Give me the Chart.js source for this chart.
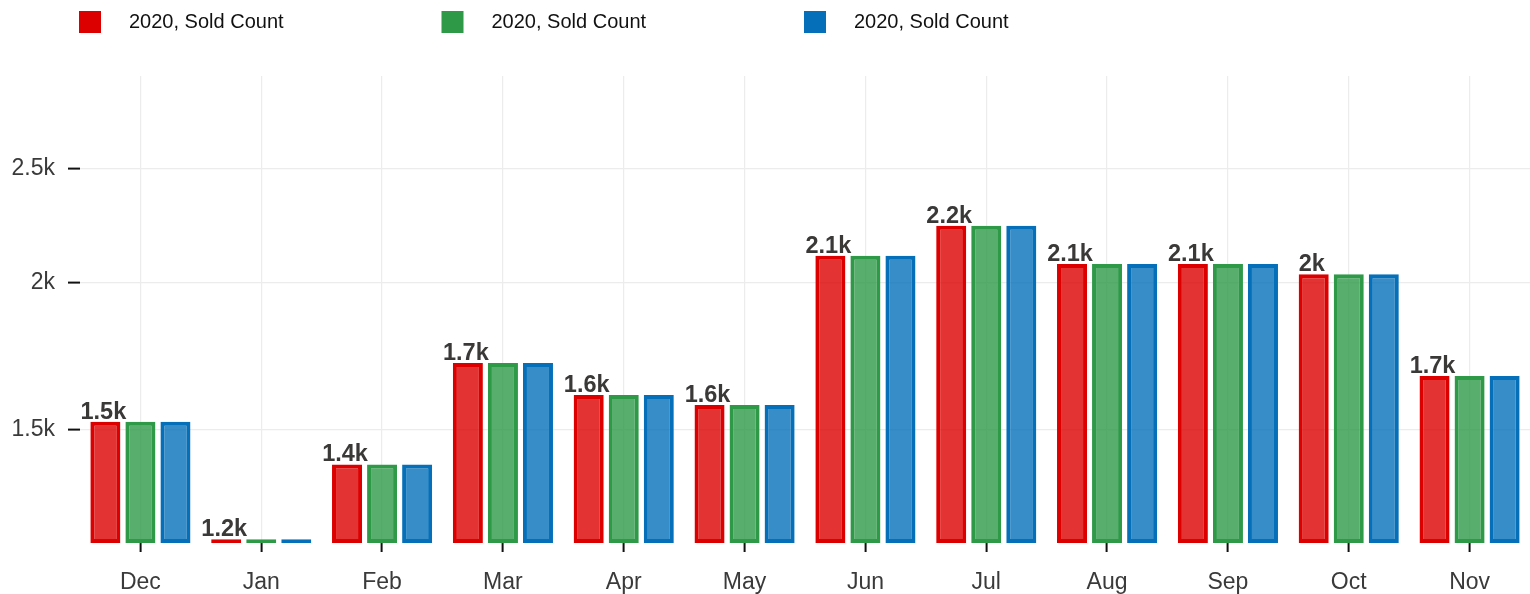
<!DOCTYPE html>
<html><head><meta charset="utf-8">
<script src="https://cdn.jsdelivr.net/npm/chart.js@4/dist/chart.umd.min.js"></script>
<style>html,body{margin:0;padding:0;background:#fff}#wrap{width:1530px;height:594px;position:relative}</style>
</head><body><div id="wrap"><canvas id="c"></canvas></div>
<script>
const categories = ['Dec','Jan','Feb','Mar','Apr','May','Jun','Jul','Aug','Sep','Oct','Nov'];
const seriesLabels = ['2020, Sold Count','2020, Sold Count','2020, Sold Count'];
const soldCountRed = [1522,1209,1400,1708,1604,1573,2108,2236,2075,2075,2033,1665];
const soldCountGreen = [1522,1209,1400,1708,1604,1573,2108,2236,2075,2075,2033,1665];
const soldCountBlue = [1522,1209,1400,1708,1604,1573,2108,2236,2075,2075,2033,1665];
const yTickValues = [1500,2000,2500];
const yMin = 1200, yMax = 3000;

const FONT = '"Liberation Sans", Arial, Helvetica, sans-serif';
const borderColors = ['#dd0000','#2e9a48','#0570b9'];
const fillColors = ['rgba(221,0,0,0.8)','rgba(46,154,72,0.8)','rgba(5,112,185,0.8)'];

function fmtK(v){
  const s = (v/1000).toFixed(1).replace(/\.0$/,'');
  return s + 'k';
}

const legendPlugin = {
  id:'customLegend',
  afterDraw(chart){
    const ctx = chart.ctx;
    ctx.save();
    chart.data.datasets.forEach((ds,i)=>{
      const x = 79 + i*362.5;
      ctx.fillStyle = borderColors[i];
      ctx.fillRect(x, 11, 22, 22);
      ctx.fillStyle = '#111';
      ctx.font = '20px ' + FONT;
      ctx.textAlign = 'left';
      ctx.textBaseline = 'middle';
      ctx.fillText(ds.label, x + 50, 22.5);
    });
    ctx.restore();
  }
};

const labelPlugin = {
  id:'barLabels',
  afterDatasetsDraw(chart){
    const ctx = chart.ctx;
    const meta = chart.getDatasetMeta(0);
    const data = chart.data.datasets[0].data;
    ctx.save();
    ctx.font = 'bold 23.5px ' + FONT;
    ctx.fillStyle = '#3b3838';
    ctx.textAlign = 'center';
    ctx.textBaseline = 'alphabetic';
    meta.data.forEach((el,i)=>{
      ctx.fillText(fmtK(data[i]), el.x - 2, el.y - 3);
    });
    ctx.restore();
  }
};

new Chart(document.getElementById('c'), {
  type:'bar',
  data:{
    labels: categories,
    datasets:[
      {label: seriesLabels[0], data: soldCountRed, backgroundColor: fillColors[0], borderColor: borderColors[0]},
      {label: seriesLabels[1], data: soldCountGreen, backgroundColor: fillColors[1], borderColor: borderColors[1]},
      {label: seriesLabels[2], data: soldCountBlue, backgroundColor: fillColors[2], borderColor: borderColors[2]}
    ]
  },
  options:{
    responsive:true,
    maintainAspectRatio:false,
    animation:false,
    layout:{padding:{top:76,left:0,right:0,bottom:0}},
    datasets:{bar:{borderWidth:4, borderSkipped:false, categoryPercentage:0.87, barPercentage:0.857}},
    plugins:{legend:{display:false}, tooltip:{enabled:false}},
    scales:{
      x:{
        border:{display:false},
        grid:{offset:false, color:'#ececec', lineWidth:1.2, drawTicks:true, tickLength:9, tickColor:'#111', tickWidth:2},
        ticks:{color:'#3a3a3a', font:{family:FONT, size:23}, padding:17, maxRotation:0},
        afterFit(s){ s.height = 51; }
      },
      y:{
        type:'logarithmic',
        min:yMin, max:yMax,
        border:{display:false},
        grid:{color:'#ececec', lineWidth:1.2, drawTicks:true, tickLength:12, tickColor:'#111', tickWidth:2},
        ticks:{color:'#3a3a3a', font:{family:FONT, size:23}, padding:13, callback:(v)=>fmtK(v)},
        afterBuildTicks(s){ s.ticks = yTickValues.map(v=>({value:v})); },
        afterFit(s){ s.width = 80; }
      }
    }
  },
  plugins:[legendPlugin, labelPlugin]
});
</script></body></html>
